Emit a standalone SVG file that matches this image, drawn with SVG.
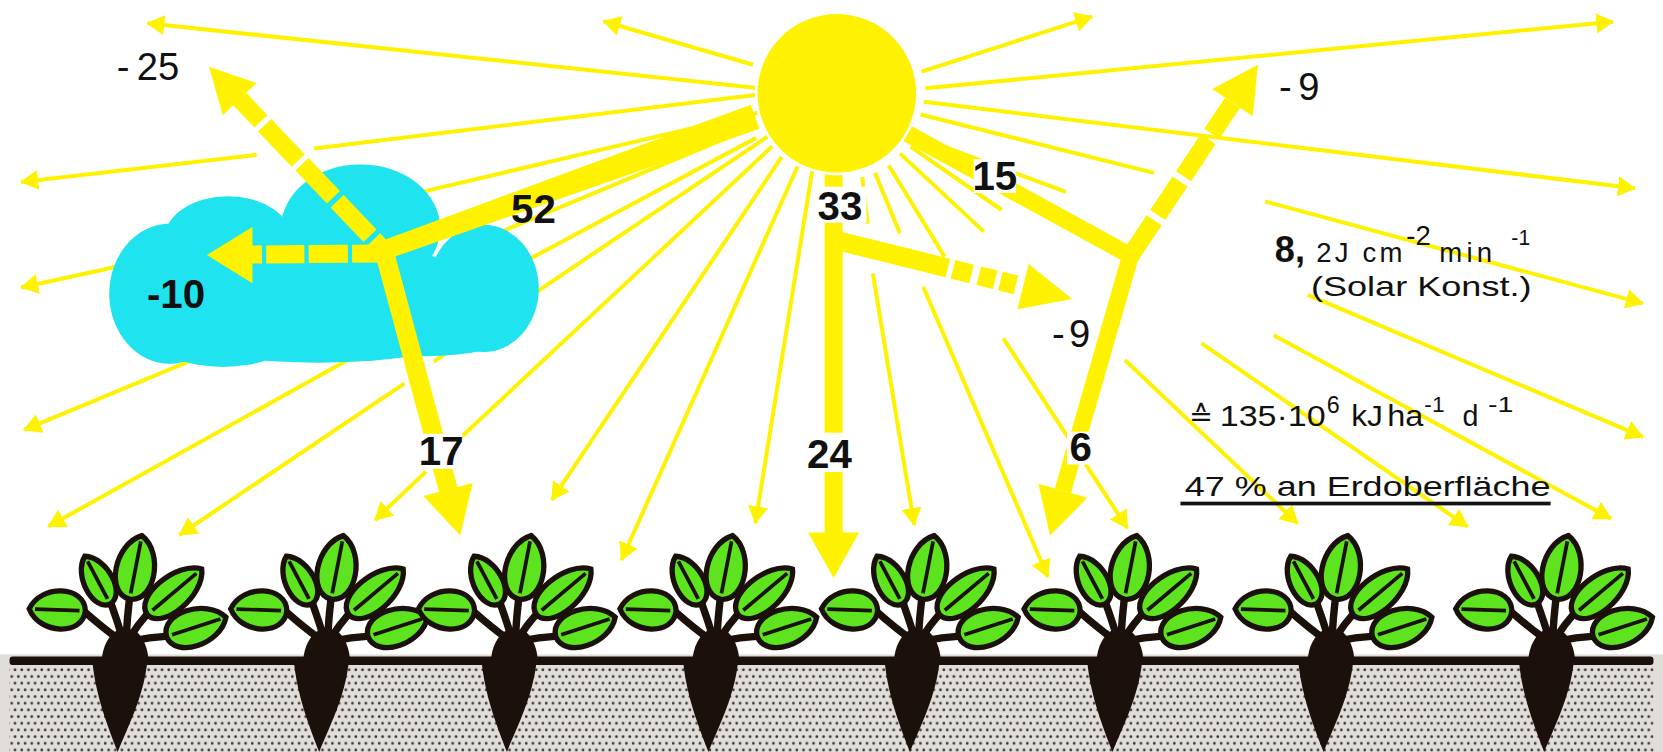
<svg xmlns="http://www.w3.org/2000/svg" width="1663" height="752" viewBox="0 0 1663 752">
<style>
.ray{fill:none;stroke:#fff200;stroke-width:3.8;marker-end:url(#ah)}
.band{fill:none;stroke:#fff200}
.y{fill:#fff200}
.ko{fill:#ffffff}
.lbl{font-family:"Liberation Sans",Arial,sans-serif;font-weight:bold;font-size:38px;fill:#111;text-anchor:middle}
.lbn{font-family:"Liberation Sans",Arial,sans-serif;font-size:36px;fill:#111}
.txt{font-family:"Liberation Sans","DejaVu Sans",Arial,sans-serif;fill:#111}
.leaf{fill:#5ee31f;stroke:#1b100a;stroke-width:5}
.rib{stroke:#1b100a;stroke-width:3.5;fill:none}
.dark{fill:#1b100a}
</style>
<defs>
<marker id="ah" markerUnits="userSpaceOnUse" viewBox="0 0 17 19" refX="16" refY="9.5" markerWidth="17" markerHeight="19" orient="auto">
<path d="M0,0 L17,9.5 L0,19 Z" fill="#fff200"/>
</marker>
<pattern id="dots" patternUnits="userSpaceOnUse" width="6.3" height="12.6">
<circle cx="1.6" cy="1.6" r="1.3" fill="#363636"/>
<circle cx="4.75" cy="7.9" r="1.3" fill="#363636"/>
</pattern>
<!-- one beet plant, origin = root centre on the ground line -->
<g id="plant">
<path class="dark" d="M-24,0 C-21,35 -8,66 0,87 C8,66 25,35 28,0 Z"/>
<path class="dark" d="M-15,2 C-15,-12 -8,-24 0,-28 L16,-28 C24,-22 29,-10 29,2 Z"/>
<path d="M0,-20 Q-14,-30 -31,-45 M4,-22 Q-1,-38 -6,-52 M8,-22 Q9,-40 11,-57 M12,-22 Q19,-33 27,-42 M15,-18 Q30,-21 45,-22" stroke="#1b100a" stroke-width="7" fill="none" stroke-linecap="round"/>
<g transform="translate(74,-31) rotate(72)"><path class="leaf" d="M0,-29.5 C23,-17 23,28 0,29.5 C-23,28 -23,-17 0,-29.5 Z"/><path class="rib" d="M0,-24 L0,24"/></g>
<g transform="translate(53.5,-64) rotate(50)"><path class="leaf" d="M0,-33.5 C21,-20 21,32 0,33.5 C-21,32 -21,-20 0,-33.5 Z"/><path class="rib" d="M0,-27 L0,27"/></g>
<g transform="translate(-57,-47) rotate(-88)"><path class="leaf" d="M0,-26.5 C24,-16 24,25 0,26.5 C-24,25 -24,-16 0,-26.5 Z"/><path class="rib" d="M0,-21 L0,21"/></g>
<g transform="translate(-19,-75) rotate(-28)"><path class="leaf" d="M0,-25.5 C18,-15 18,24 0,25.5 C-18,24 -18,-15 0,-25.5 Z"/><path class="rib" d="M0,-20 L0,20"/></g>
<g transform="translate(17,-87) rotate(11)"><path class="leaf" d="M0,-30.5 C24,-18 24,29 0,30.5 C-24,29 -24,-18 0,-30.5 Z"/><path class="rib" d="M0,-25 L0,25"/></g>
</g>
</defs>
<rect width="1663" height="752" fill="#ffffff"/>
<g transform="scale(1.0606)">
<!-- soil -->
<g id="soil">
<rect x="0" y="617" width="1568" height="94" fill="#e1ddd9"/>
<rect x="9" y="626" width="1550" height="85" fill="url(#dots)"/>
<rect x="9" y="619" width="1550" height="8" rx="3" class="dark"/>
</g>
<!-- connectors: thin rays -->
<g id="connectors">
<g id="rays">
<path class="ray" d="M714,83 L139,22"/>
<path class="ray" d="M710,61 L569,20"/>
<path class="ray" d="M716,89 L296,140 M242,146 L20,171.5"/>
<path class="ray" d="M720,105 L406,179 L96,254.6 L20,271"/>
<path class="ray" d="M712,119 L22.7,405.4"/>
<path class="ray" d="M713,130 L509,239 L333.4,336.3 L45.5,496.5"/>
<path class="ray" d="M725,128 L550.6,245 L409,341 M381.4,361.4 L169.2,504.4"/>
<path class="ray" d="M728,138 L613.7,245 L431.9,414.8 M401.6,444.7 L353.6,490.3"/>
<path class="ray" d="M737,148 L520.3,471.4"/>
<path class="ray" d="M752,157 L586,528"/>
<path class="ray" d="M766,160 L712.2,493.4"/>
<path class="ray" d="M813,167 L818,211 M823,258 L862,495"/>
<path class="ray" d="M825,163 L848.5,220 M870.4,270.3 L988,544"/>
<path class="ray" d="M838,156 L890.6,242 M946,319 L1063,498"/>
<path class="ray" d="M848.5,144.6 L927.6,218.4 M1060.6,339.5 L1223.4,493.5"/>
<path class="ray" d="M858.6,138.3 L944.5,198 M1133,323.8 L1383.7,496.6"/>
<path class="ray" d="M868.7,130.4 L1005,181 M1233,278 L1549,412"/>
<path class="ray" d="M1201,316 L1519,489"/>
<path class="ray" d="M868,108 L1088,163 M1193,190 L1549,286"/>
<path class="ray" d="M871,96 L1541.5,177.6"/>
<path class="ray" d="M872.6,83.3 L1521,20.4"/>
<path class="ray" d="M869,67.6 L1029.7,15.7"/>
</g>
</g>
<!-- cloud -->
<g id="cloud" fill="#1fe4ef">
<ellipse cx="300" cy="287" rx="192" ry="55"/>
<ellipse cx="160" cy="277" rx="57" ry="66"/>
<ellipse cx="215" cy="225" rx="60" ry="40"/>
<ellipse cx="340" cy="215" rx="75" ry="60"/>
<ellipse cx="456" cy="272" rx="52" ry="60"/>
<ellipse cx="210" cy="320" rx="62" ry="26"/>
<ellipse cx="400" cy="314" rx="82" ry="22"/>
</g>
<!-- energy flow arrows -->
<g id="flows">
<g id="flow-52">
<polygon class="y" points="359,227.5 707.9,98.7 716.1,121.3 365,244.5"/>
<circle class="y" cx="362" cy="236" r="9"/>
</g>
<g id="flow-17">
<line class="band" x1="362" y1="236" x2="423" y2="463" stroke-width="18"/>
<polygon class="y" points="445.6,455.3 434,505 399.2,467.7"/>
</g>
<g id="flow-minus10">
<line class="band" x1="362" y1="239" x2="236" y2="240" stroke-width="17" stroke-dasharray="30 4 37 4 36 4 40"/>
<polygon class="y" points="238,214 195,240.5 238,267"/>
</g>
<g id="flow-minus25">
<line class="band" x1="362" y1="236" x2="226" y2="93.4" stroke-width="17" stroke-dasharray="14 5 45 5 43 5 46 5 40"/>
<polygon class="y" points="241.9,78.2 197,63 210.1,108.6"/>
</g>
<g id="flow-33">
<line class="band" x1="786" y1="160" x2="786" y2="504" stroke-width="17"/>
<polygon class="y" points="762,502 786,545 810,502"/>
<line class="band" x1="786" y1="226" x2="964.6" y2="270.3" stroke-width="18" stroke-dasharray="111 5 18 7 16 5 15 30"/>
<polygon class="y" points="969.9,249 1011,282 959.3,291.6"/>
</g>
<g id="flow-15">
<polyline class="band" points="852,124 1066,241 1002.2,462.7" stroke-width="16" stroke-linejoin="miter"/>
<polygon class="y" points="1025.3,469.4 990,505 979.1,456"/>
<line class="band" x1="1066" y1="241" x2="1162.1" y2="96.8" stroke-width="17" stroke-dasharray="40 6 38 6 42 6 40"/>
<polygon class="y" points="1143,84 1186,61 1181.2,109.6"/>
</g>
</g>
<!-- sun -->
<circle id="sun" cx="789" cy="88" r="76" fill="#fff200" stroke="#ffffff" stroke-width="2.5"/>
<!-- value labels -->
<g id="labels">
<rect class="ko" x="767" y="176" width="50" height="34"/>
<rect class="ko" x="757" y="408" width="50" height="37"/>
<rect class="ko" x="396" y="409" width="40" height="33"/>
<rect class="ko" x="918" y="150" width="40" height="32"/>
<rect class="ko" x="1006" y="407" width="27" height="31"/>
<text class="lbl" x="503" y="210">52</text>
<text class="lbl" x="792" y="207">33</text>
<text class="lbl" x="938" y="179">15</text>
<text class="lbl" x="416" y="438">17</text>
<text class="lbl" x="782" y="441">24</text>
<text class="lbl" x="1019" y="435">6</text>
<text class="lbl" x="166" y="290">-10</text>
<text class="lbn" x="110" y="75">-<tspan dx="7">25</tspan></text>
<text class="lbn" x="1206" y="94">-<tspan dx="6">9</tspan></text>
<text class="lbn" x="992" y="327">-<tspan dx="4">9</tspan></text>
</g>
<!-- plants -->
<g id="plants">
<use id="plant-1" href="#plant" transform="translate(111,622)"/>
<use id="plant-2" href="#plant" transform="translate(301,622)"/>
<use id="plant-3" href="#plant" transform="translate(478,622)"/>
<use id="plant-4" href="#plant" transform="translate(668,622)"/>
<use id="plant-5" href="#plant" transform="translate(858,622)"/>
<use id="plant-6" href="#plant" transform="translate(1049,622)"/>
<use id="plant-7" href="#plant" transform="translate(1248,622)"/>
<use id="plant-8" href="#plant" transform="translate(1456,622)"/>
</g>
<!-- legend text -->
<g id="legend">
<text class="txt" y="247"><tspan x="1202" font-size="34" font-weight="bold">8,</tspan><tspan x="1241" font-size="26" letter-spacing="3">2J cm</tspan><tspan x="1326" y="231" font-size="26">-2</tspan><tspan x="1357" y="247" font-size="26" letter-spacing="4">min</tspan><tspan x="1425" y="231" font-size="20">-1</tspan></text>
<text class="txt" x="1236" y="279" font-size="26" textLength="208" lengthAdjust="spacingAndGlyphs">(Solar Konst.)</text>
<text class="txt" x="1121" y="401.7" font-size="27">≙</text>
<text class="txt" x="1150" y="401.7" font-size="27" textLength="100" lengthAdjust="spacingAndGlyphs">135·10</text>
<text class="txt" x="1251" y="389" font-size="22">6</text>
<text class="txt" x="1274" y="401.7" font-size="27" textLength="30" lengthAdjust="spacingAndGlyphs">kJ</text>
<text class="txt" x="1308" y="401.7" font-size="27" textLength="34" lengthAdjust="spacingAndGlyphs">ha</text>
<text class="txt" x="1343" y="388" font-size="20" textLength="19" lengthAdjust="spacingAndGlyphs">-1</text>
<text class="txt" x="1379" y="401.7" font-size="27">d</text>
<text class="txt" x="1403" y="388" font-size="20" textLength="24" lengthAdjust="spacingAndGlyphs">-1</text>
<text class="txt" x="1117" y="468" font-size="26" textLength="345" lengthAdjust="spacingAndGlyphs">47 % an Erdoberfläche</text>
<rect x="1113" y="473" width="349" height="3.5" fill="#111"/>
</g>
</g>
</svg>
